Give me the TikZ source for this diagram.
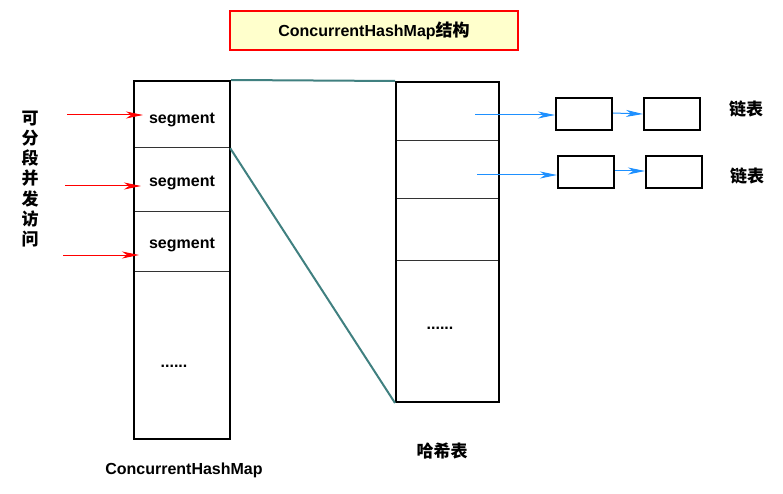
\documentclass[tikz,border=0pt]{standalone}
\usepackage{fontspec}
\setmainfont{Liberation Sans}
\newfontfamily\cjk{Noto Sans CJK SC}
\usetikzlibrary{arrows.meta}
\definecolor{tealline}{RGB}{64,128,128}
\definecolor{bluearr}{RGB}{30,144,255}
\definecolor{titlefill}{RGB}{255,255,204}
\tikzset{
  lbl/.style={font=\fontsize{16}{19}\selectfont\bfseries, inner sep=0pt},
  cjklbl/.style={font=\fontsize{17}{20}\selectfont\cjk\bfseries, inner sep=0pt},
  cell/.style={draw=black!80, line width=1.2pt, inner sep=0pt, anchor=north west},
  outer/.style={draw=black, line width=2pt},
  listbox/.style={draw=black, line width=2pt, minimum width=56pt, minimum height=32pt, inner sep=0pt, anchor=north west},
  tealconn/.style={draw=tealline, line width=2pt},
  redarrow/.style={draw=red, line width=1pt, -{Stealth[length=17pt,width=7pt,inset=5pt]}},
  bluearrow/.style={draw=bluearr, line width=1pt, -{Stealth[length=17pt,width=7pt,inset=5pt]}},
}
\begin{document}
\begin{tikzpicture}[x=1pt,y=-1pt]
\useasboundingbox (0,0) rectangle (783,494);
% title
\node[draw=red, line width=2pt, fill=titlefill, minimum width=288pt, minimum height=39pt, inner sep=0pt, anchor=north west,
  font=\fontsize{16}{19}\selectfont\bfseries] (title) at (229,10) {ConcurrentHashMap{\cjk\fontsize{17}{20}\selectfont 结构}};
% left column cells
\node[cell, minimum width=96pt, minimum height=67pt] (s1) at (133,80) {};
\node[cell, minimum width=96pt, minimum height=64pt] (s2) at (133,147) {};
\node[cell, minimum width=96pt, minimum height=60pt] (s3) at (133,211) {};
\node[cell, minimum width=96pt, minimum height=167pt] (s4) at (133,271) {};
\node[outer, minimum width=96pt, minimum height=358pt, inner sep=0pt, anchor=north west] (chm) at (133,80) {};
\node[lbl] (t1) at (182,120) {segment};
\node[lbl] (t2) at (182,183) {segment};
\node[lbl] (t3) at (182,245) {segment};
\node[lbl] (d1) at (174,366) {......};
\node[lbl] (chmlbl) at (184,470) {ConcurrentHashMap};
% hash table cells
\node[cell, minimum width=103pt, minimum height=59pt] (h1) at (395,81) {};
\node[cell, minimum width=103pt, minimum height=58pt] (h2) at (395,140) {};
\node[cell, minimum width=103pt, minimum height=62pt] (h3) at (395,198) {};
\node[cell, minimum width=103pt, minimum height=141pt] (h4) at (395,260) {};
\node[outer, minimum width=103pt, minimum height=320pt, inner sep=0pt, anchor=north west] (ht) at (395,81) {};
\node[lbl] (d2) at (440,328) {......};
\node[cjklbl] (htlbl) at (442,451) {哈希表};
% teal connectors
\draw[tealconn] (chm.north east) -- (ht.north west);
\draw[tealconn] (s1.south east) -- (ht.south west);
% vertical text
\node[font=\fontsize{17}{20.3}\selectfont\cjk\bfseries, align=center, inner sep=0pt] (vt) at (30,179)
  {可\\分\\段\\并\\发\\访\\问};
% red arrows
\coordinate (r1) at (67,115);
\coordinate (r2) at (65,186);
\coordinate (r3) at (63,255);
\draw[redarrow, shorten >=-10pt] (r1) -- (r1 -| chm.west);
\draw[redarrow, shorten >=-8pt] (r2) -- (r2 -| chm.west);
\draw[redarrow, shorten >=-6pt] (r3) -- (r3 -| chm.west);
% linked lists
\node[listbox] (l11) at (555,97) {};
\node[listbox] (l12) at (643,97) {};
\node[listbox] (l21) at (557,155) {};
\node[listbox] (l22) at (645,155) {};
\coordinate (b1) at (475,115);
\coordinate (b2) at (477,175);
\draw[bluearrow] (b1) -- (b1 -| l11.west);
\draw[bluearrow] (b2) -- (b2 -| l21.west);
\draw[bluearrow] ([yshift=1pt]l11.east) -- ([yshift=0pt]l12.west);
\draw[bluearrow] ([yshift=1pt]l21.east) -- ([yshift=1pt]l22.west);
\node[cjklbl] (ll1) at (746,109) {链表};
\node[cjklbl] (ll2) at (747,176) {链表};
\end{tikzpicture}
\end{document}
